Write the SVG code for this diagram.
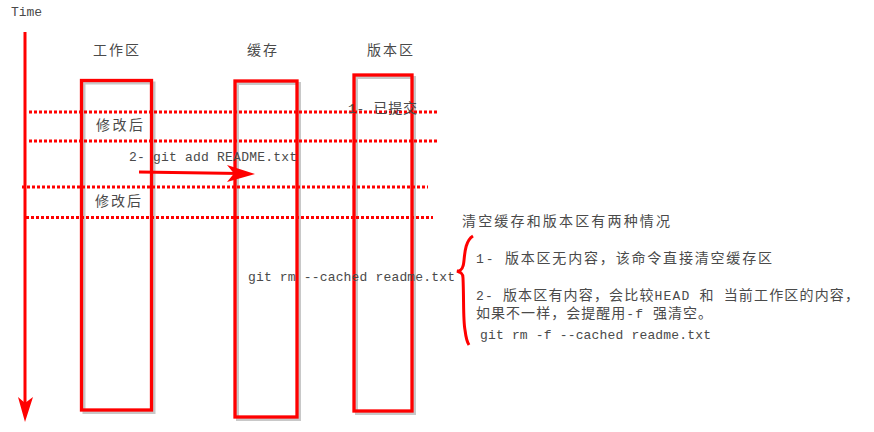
<svg xmlns="http://www.w3.org/2000/svg" width="874" height="432" viewBox="0 0 874 432">
<style>
.t{font-family:"Liberation Mono","Noto Sans CJK SC",monospace;font-size:13px;fill:#4a4a4a}
.c{font-family:"Noto Sans CJK SC",sans-serif;font-size:14px}
.box{fill:none;stroke:#ff0000;stroke-width:3.3}
.sh{fill:none;stroke:#c8c8c8;stroke-width:3}
.dot{stroke:#ff0000;stroke-width:3;stroke-dasharray:3 2;fill:none}
.red{stroke:#ff0000;stroke-width:3;fill:none}
</style>
<rect width="874" height="432" fill="#ffffff"/>
<text class="t" x="11" y="16" textLength="31">Time</text>
<g id="time-axis">
<line class="red" x1="25" y1="32" x2="25" y2="405"/>
<path d="M18,397 L25,422 L33,397 L25,403 Z" fill="#ff0000"/>
</g>
<g id="workspace">
<rect class="sh" x="84" y="83" width="70" height="329.5"/>
<rect class="box" x="81.5" y="80.5" width="70" height="329.5" fill="#fff"/>
<text class="t" x="93" y="55" textLength="46"><tspan class="c">工作区</tspan></text>
</g>
<g id="cache">
<rect class="sh" x="237.5" y="83.5" width="62" height="336"/>
<rect class="box" x="235" y="81" width="62" height="336"/>
<text class="t" x="247" y="55" textLength="30"><tspan class="c">缓存</tspan></text>
</g>
<g id="repo">
<rect class="sh" x="356.5" y="77.5" width="58" height="336"/>
<rect class="box" x="354" y="75" width="58" height="336"/>
<text class="t" x="367" y="55" textLength="46"><tspan class="c">版本区</tspan></text>
</g>
<g id="connectors">
<line class="dot" x1="29" y1="112" x2="437" y2="112"/>
<line class="dot" x1="29" y1="141" x2="437" y2="141"/>
<line class="dot" x1="22" y1="187" x2="428" y2="187"/>
<line class="dot" x1="26" y1="217.5" x2="433" y2="217.5"/>
<line class="red" x1="139" y1="172" x2="240" y2="173.5"/>
<path d="M227,165 L255,174 L227,182 L234,173.5 Z" fill="#ff0000"/>
<path class="red" d="M473,236 C463,242 465,262 463,266 C462,270 459,271 457,271 C460,272 463,273 463,278 C464,300 463,320 465,330 C466,338 467,342 469,345"/>
</g>
<g id="labels">
<text class="t" x="348" y="113" textLength="69">1- <tspan class="c">已提交</tspan></text>
<text class="t" x="96" y="130" textLength="47"><tspan class="c">修改后</tspan></text>
<text class="t" x="129" y="161" textLength="168">2- git add README.txt</text>
<text class="t" x="95" y="206" textLength="46"><tspan class="c">修改后</tspan></text>
<text class="t" x="248" y="281" textLength="207">git rm --cached readme.txt</text>
</g>
<g id="notes">
<text class="t" x="462" y="226" textLength="208"><tspan class="c">清空缓存和版本区有两种情况</tspan></text>
<text class="t" x="476" y="263" textLength="296">1- <tspan class="c">版本区无内容，该命令直接清空缓存区</tspan></text>
<text class="t" x="476" y="300" textLength="383">2- <tspan class="c">版本区有内容，会比较</tspan>HEAD <tspan class="c">和</tspan> <tspan class="c">当前工作区的内容，</tspan></text>
<text class="t" x="476" y="318" textLength="236"><tspan class="c">如果不一样，会提醒用</tspan>-f <tspan class="c">强清空。</tspan></text>
<text class="t" x="480" y="339" textLength="231">git rm -f --cached readme.txt</text>
</g>
</svg>
